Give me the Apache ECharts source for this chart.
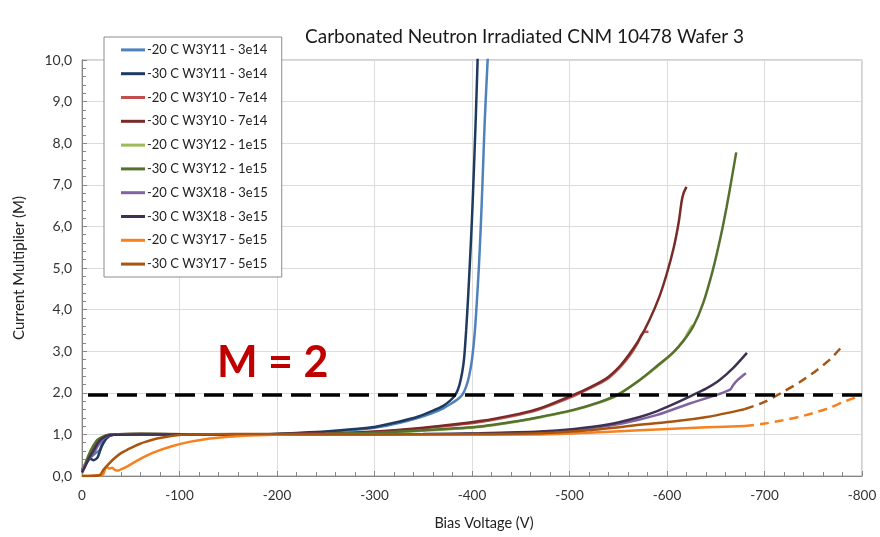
<!DOCTYPE html>
<html>
<head>
<meta charset="utf-8">
<script src="https://cdn.jsdelivr.net/npm/echarts@6/dist/echarts.min.js"></script>
<style>html,body{margin:0;padding:0;background:#fff;}#c{width:880px;height:537px;}</style>
</head>
<body>
<div id="c"></div>
<script>
// ---- data ----
const titleText = 'Carbonated Neutron Irradiated CNM 10478 Wafer 3';
const seriesNames = ['-20 C W3Y11 - 3e14','-30 C W3Y11 - 3e14','-20 C W3Y10 - 7e14','-30 C W3Y10 - 7e14','-20 C W3Y12 - 1e15','-30 C W3Y12 - 1e15','-20 C W3X18 - 3e15','-30 C W3X18 - 3e15','-20 C W3Y17 - 5e15','-30 C W3Y17 - 5e15'];
const seriesColors = ['#4F81BD','#1F3A5F','#C0504D','#7A2A28','#9BBB59','#56702E','#8064A2','#403152','#F5821F','#A9540F'];
const xTicks = [0,-100,-200,-300,-400,-500,-600,-700,-800];
const yTicks = [0,1,2,3,4,5,6,7,8,9,10];
const mLevel = 1.95;

const b20 = [[0,0.12],[-4,0.28],[-9,0.45],[-14,0.55],[-18,0.62],[-22,0.85],[-27,0.96],[-35,1.0],[-60,1.01],[-120,1.0],[-180,1.0],[-224,1.03],[-250,1.06],[-280,1.11],[-300,1.16],[-326,1.28],[-345,1.4],[-360,1.52],[-370,1.62],[-378,1.73],[-385,1.84],[-390,1.95],[-394,2.15],[-397,2.4],[-400,2.8],[-403,3.5],[-405,4.2],[-407,5.0],[-409,6.0],[-411,7.2],[-413,8.5],[-415,9.5],[-416.5,10.2]];
const b30 = [[0,0.15],[-4,0.3],[-8,0.42],[-12,0.38],[-16,0.45],[-20,0.7],[-25,0.9],[-32,0.99],[-60,1.01],[-120,1.0],[-180,1.0],[-224,1.04],[-250,1.07],[-280,1.13],[-300,1.18],[-326,1.31],[-345,1.43],[-360,1.57],[-370,1.68],[-377,1.8],[-383,1.95],[-387,2.18],[-390,2.5],[-392,2.85],[-394,3.5],[-396,4.3],[-398,5.2],[-400,6.2],[-402,7.4],[-404,8.7],[-406,10.2]];
const r20 = [[0,0.12],[-4,0.3],[-8,0.48],[-13,0.68],[-18,0.86],[-25,0.97],[-33,1.0],[-60,1.01],[-150,1.0],[-250,1.02],[-300,1.06],[-350,1.15],[-408,1.3],[-449,1.48],[-470,1.61],[-504,1.92],[-520,2.1],[-538,2.32],[-552,2.62],[-562,2.9],[-570,3.2],[-574,3.4],[-578,3.47],[-581,3.47]];
const r30 = [[0,0.1],[-3,0.25],[-7,0.45],[-12,0.65],[-17,0.85],[-24,0.96],[-32,1.0],[-60,1.01],[-150,1.0],[-250,1.02],[-300,1.07],[-350,1.16],[-408,1.32],[-449,1.5],[-470,1.63],[-504,1.95],[-520,2.12],[-538,2.35],[-552,2.65],[-562,2.95],[-572,3.3],[-582,3.75],[-592,4.3],[-600,4.88],[-607,5.5],[-612,6.1],[-615,6.6],[-617,6.8],[-620,6.95]];
const g20 = [[0,0.12],[-3,0.28],[-7,0.5],[-12,0.73],[-17,0.88],[-25,0.98],[-32,1.0],[-60,1.01],[-150,1.0],[-250,1.01],[-300,1.03],[-350,1.09],[-408,1.18],[-449,1.32],[-470,1.41],[-504,1.58],[-530,1.76],[-549,1.94],[-572,2.3],[-590,2.63],[-606,2.96],[-618,3.3],[-624,3.55],[-627,3.63]];
const g30 = [[0,0.1],[-2,0.2],[-6,0.46],[-11,0.7],[-16,0.87],[-24,0.97],[-30,1.0],[-60,1.01],[-150,1.0],[-250,1.01],[-300,1.04],[-350,1.1],[-408,1.19],[-449,1.33],[-470,1.42],[-504,1.59],[-530,1.77],[-549,1.95],[-572,2.31],[-590,2.65],[-606,2.96],[-617,3.25],[-627,3.6],[-637,4.15],[-647,4.95],[-655,5.75],[-661,6.45],[-666,7.1],[-671,7.78]];
const p20 = [[0,0.1],[-3,0.25],[-7,0.4],[-12,0.55],[-17,0.75],[-24,0.93],[-32,0.99],[-60,1.0],[-150,1.0],[-250,1.0],[-350,1.0],[-408,1.02],[-470,1.05],[-510,1.12],[-555,1.27],[-590,1.47],[-624,1.75],[-651,1.95],[-660,2.03],[-665,2.08],[-668,2.19],[-672,2.3],[-677,2.4],[-681,2.47]];
const p30 = [[0,0.08],[-3,0.22],[-7,0.42],[-12,0.62],[-17,0.82],[-24,0.95],[-32,0.99],[-60,1.0],[-150,1.0],[-250,1.0],[-350,1.01],[-408,1.03],[-470,1.07],[-505,1.13],[-538,1.23],[-572,1.42],[-590,1.56],[-606,1.72],[-627,1.95],[-640,2.1],[-654,2.31],[-668,2.6],[-682,2.96]];
const o20 = [[0,0],[-21,0.02],[-23,0.12],[-25,0.22],[-28,0.18],[-31,0.2],[-34,0.14],[-37,0.13],[-40,0.16],[-44,0.2],[-50,0.28],[-59,0.4],[-73,0.56],[-93,0.72],[-110,0.82],[-128,0.89],[-145,0.93],[-162,0.96],[-196,0.99],[-250,1.0],[-350,0.99],[-470,1.0],[-520,1.04],[-572,1.1],[-641,1.17],[-680,1.2]];
const o30 = [[0,0],[-18,0.02],[-22,0.15],[-27,0.28],[-33,0.42],[-40,0.55],[-48,0.65],[-54,0.72],[-59,0.77],[-65,0.82],[-77,0.9],[-93,0.97],[-110,1.0],[-200,1.01],[-300,1.0],[-400,1.01],[-470,1.03],[-520,1.1],[-572,1.23],[-610,1.32],[-641,1.42],[-665,1.53],[-680,1.61]];
const o20ext = [[-680,1.2],[-700,1.26],[-719,1.34],[-737,1.43],[-754,1.54],[-768,1.65],[-780,1.77],[-790,1.86],[-800,1.95]];
const o30ext = [[-680,1.61],[-700,1.78],[-719,2.02],[-737,2.27],[-754,2.55],[-768,2.82],[-779,3.1]];

const allData = [b20,b30,r20,r30,g20,g30,p20,p30,o20,o30];
const FONT = 'Lato';

const series = allData.map((d,i)=>({
  name: seriesNames[i], type:'line', data:d, symbol:'none', smooth:0.25,
  lineStyle:{color:seriesColors[i], width:2.5}, itemStyle:{color:seriesColors[i]},
  clip:true, silent:true, z: 3
}));
series.push({name:seriesNames[8]+' (ext)', type:'line', data:o20ext, symbol:'none', smooth:0.25,
  lineStyle:{color:seriesColors[8], width:2.5, type:[9,6]}, clip:true, silent:true});
series.push({name:seriesNames[9]+' (ext)', type:'line', data:o30ext, symbol:'none', smooth:0.25,
  lineStyle:{color:seriesColors[9], width:2.5, type:[9,6]}, clip:true, silent:true});
series.push({name:'M=2', type:'line', data:[], symbol:'none', silent:true, z:5,
  markLine:{silent:true, symbol:'none', label:{show:false},
    lineStyle:{color:'#000', width:3.5, type:[20,9]}, data:[{yAxis:mLevel}]}});

const chart = echarts.init(document.getElementById('c'));
chart.setOption({
  animation:false,
  backgroundColor:'#fff',
  textStyle:{fontFamily:FONT},
  title:{text:titleText, left:300, top:22, textStyle:{fontFamily:FONT, fontSize:19, fontWeight:'normal', color:'#1a1a1a'}},
  grid:{left:82, right:18, top:60, bottom:61, show:true, borderColor:'#a6a6a6', borderWidth:1},
  legend:{data:seriesNames, orient:'vertical', left:104, top:37, padding:[5,14,5,17], itemGap:8,
    icon:'rect', itemWidth:24, itemHeight:3, backgroundColor:'#fff', borderColor:'#8c8c8c', borderWidth:1,
    textStyle:{fontFamily:FONT, fontSize:13, color:'#222', padding:[0,0,0,-3], lineHeight:15.8}, z:10},
  xAxis:{type:'value', min:-800, max:0, interval:100, inverse:true,
    name:'Bias Voltage (V)', nameLocation:'middle', nameGap:40,
    nameTextStyle:{fontFamily:FONT, fontSize:14.5, color:'#222', padding:[0,0,0,24]},
    axisLine:{show:true, onZero:false, lineStyle:{color:'#868686'}},
    axisTick:{show:true, inside:true, length:5, lineStyle:{color:'#868686'}},
    minorTick:{show:true, splitNumber:5, length:4, lineStyle:{color:'#868686'}},
    axisLabel:{fontFamily:FONT, fontSize:13.5, color:'#333', margin:13,
      formatter:v=> xTicks.includes(v) ? String(v) : ''},
    splitLine:{show:true, lineStyle:{color:'#dcdcdc'}}},
  yAxis:{type:'value', min:0, max:10, interval:1,
    name:'Current Multiplier (M)', nameLocation:'middle', nameGap:55,
    nameTextStyle:{fontFamily:FONT, fontSize:15, color:'#222'},
    axisLine:{show:true, lineStyle:{color:'#868686'}},
    axisTick:{show:true, inside:true, length:5, lineStyle:{color:'#868686'}},
    minorTick:{show:true, splitNumber:5, length:4, lineStyle:{color:'#868686'}},
    axisLabel:{fontFamily:FONT, fontSize:14, color:'#333', margin:10,
      formatter:v=> yTicks.includes(v) ? v.toFixed(1).replace('.', ',') : ''},
    splitLine:{show:true, lineStyle:{color:'#dcdcdc'}}},
  graphic:[{type:'text', left:217, top:342, z:20,
    style:{text:'M = 2', fontFamily:FONT, fontSize:43, fontWeight:'bold', fill:'#C00000',
      shadowBlur:3, shadowColor:'rgba(0,0,0,0.35)', shadowOffsetX:2, shadowOffsetY:2}}],
  series: series
});
</script>
</body>
</html>
